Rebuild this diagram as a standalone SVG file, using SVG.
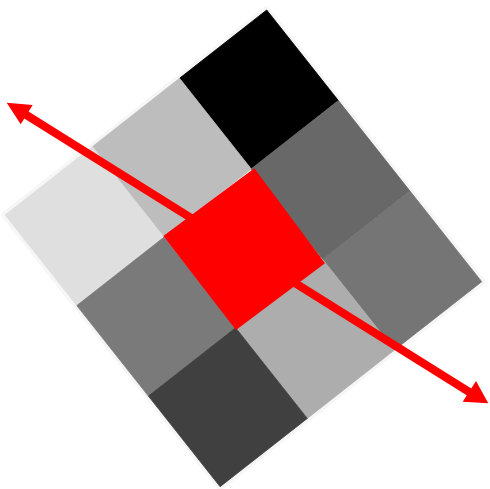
<svg xmlns="http://www.w3.org/2000/svg" width="490" height="489" viewBox="0 0 490 489">
  <style>
    .cell { stroke-width: 0.8; stroke-linejoin: miter; }
    .arrow { stroke: #ff0000; stroke-width: 8; fill: none; }
    .head { fill: #ff0000; }
  </style>
  <rect width="490" height="489" fill="#ffffff"/>
  <polygon points="266.7,10 481.7,281.7 220.1,486.7 5.1,215" fill="#fafafa" stroke="#f6f6f6" stroke-width="7" stroke-linejoin="round"/>
  <g id="cell-0-0"><polygon class="cell" points="266.7,10 338.4,100.6 251.2,168.9 179.5,78.3" fill="#000000" stroke="#000000"/></g>
  <g id="cell-1-0"><polygon class="cell" points="338.4,100.6 410,191.1 322.8,259.5 251.2,168.9" fill="#686868" stroke="#686868"/></g>
  <g id="cell-2-0"><polygon class="cell" points="410,191.1 481.7,281.7 394.5,350 322.8,259.5" fill="#757575" stroke="#757575"/></g>
  <g id="cell-0-1"><polygon class="cell" points="179.5,78.3 251.2,168.9 164,237.2 92.3,146.7" fill="#bdbdbd" stroke="#bdbdbd"/></g>
  <g id="cell-2-1"><polygon class="cell" points="322.8,259.5 394.5,350 307.3,418.4 235.6,327.8" fill="#adadad" stroke="#adadad"/></g>
  <g id="cell-0-2"><polygon class="cell" points="92.3,146.7 164,237.2 76.8,305.6 5.1,215" fill="#dfdfdf" stroke="#dfdfdf"/></g>
  <g id="cell-1-2"><polygon class="cell" points="164,237.2 235.6,327.8 148.4,396.1 76.8,305.6" fill="#7a7a7a" stroke="#7a7a7a"/></g>
  <g id="cell-2-2"><polygon class="cell" points="235.6,327.8 307.3,418.4 220.1,486.7 148.4,396.1" fill="#404040" stroke="#404040"/></g>
  <g id="connectors">
    <line class="arrow" x1="24" y1="113.5" x2="470" y2="392.5"/>
    <polygon class="head" points="6.7,102.7 32.7,105 20.7,124.3"/>
    <polygon class="head" points="488.3,403.3 462.7,401.7 476,381"/>
  </g>
  <g id="center"><polygon points="254.3,168.3 325,263.3 236,330 163.3,236" fill="#ff0000"/></g>
</svg>
